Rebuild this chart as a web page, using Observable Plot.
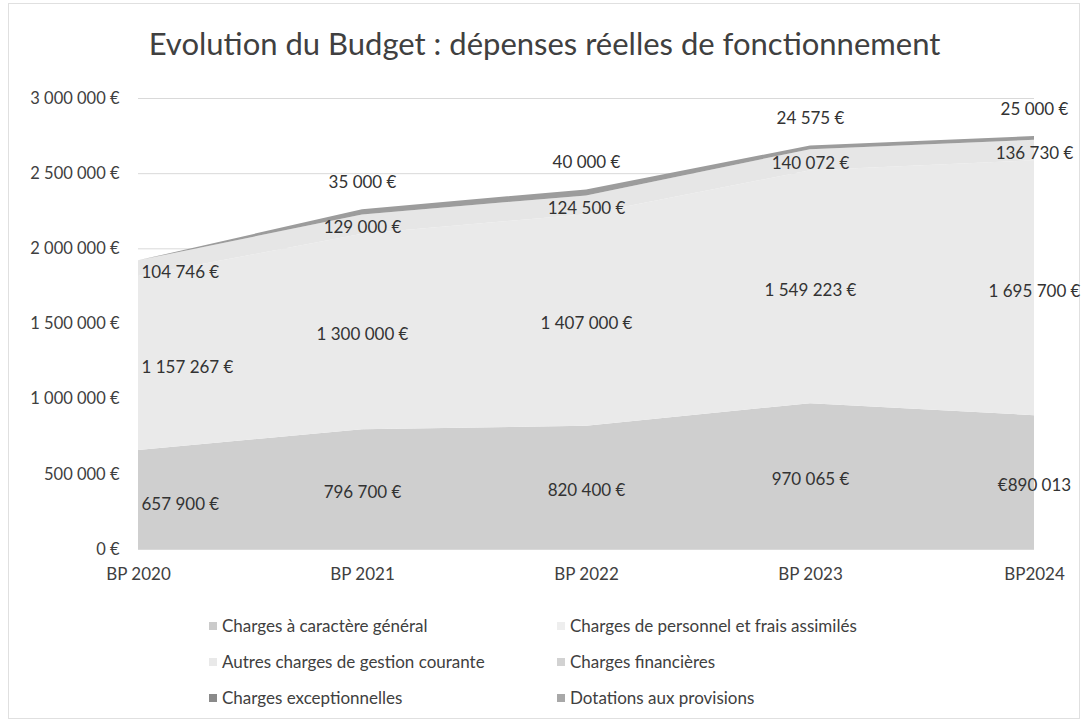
<!DOCTYPE html>
<html>
<head>
<meta charset="utf-8">
<script src="https://cdn.jsdelivr.net/npm/d3@7"></script>
<script src="https://cdn.jsdelivr.net/npm/@observablehq/plot@0.6"></script>
<style>
  html, body { margin: 0; padding: 0; background: #fff; }
  #wrap { position: relative; width: 1089px; height: 727px; font-family: Lato, "Open Sans", sans-serif; color: #404040; overflow: hidden; }
  #frame { position: absolute; left: 8px; top: 3px; width: 1072px; height: 716px; border: 1px solid #e0e0e0; box-sizing: border-box; }
  #title { position: absolute; left: 0; top: 24px; width: 1089px; text-align: center; font-size: 31px; color: #404040; }
  #chart { position: absolute; left: 0; top: 80px; }
  #legend { position: absolute; left: 209px; top: 614px; display: grid; grid-template-columns: 348px 320px; row-gap: 13px; font-size: 17px; color: #404040; }
  .item { display: flex; align-items: center; height: 23px; }
  .sw { width: 8px; height: 8px; margin-right: 5px; display: inline-block; }
</style>
</head>
<body>
<div id="wrap">
  <div id="frame"></div>
  <div id="title">Evolution du Budget : dépenses réelles de fonctionnement</div>
  <div id="chart"></div>
  <div id="legend"></div>
</div>
<script>
const categories = ["BP 2020", "BP 2021", "BP 2022", "BP 2023", "BP2024"];
const seriesNames = [
  "Charges à caractère général",
  "Charges de personnel et frais assimilés",
  "Autres charges de gestion courante",
  "Charges financières",
  "Charges exceptionnelles",
  "Dotations aux provisions"
];
const general = [657900, 796700, 820400, 970065, 890013];
const personnel = [1157267, 1300000, 1407000, 1549223, 1695700];
const autres = [104746, 129000, 124500, 140072, 136730];
const financieres = [0, 35000, 40000, 24575, 25000];
const exceptionnelles = [0, 0, 0, 0, 0];
const dotations = [0, 0, 0, 0, 0];
const generalLabels = ["657 900 €", "796 700 €", "820 400 €", "970 065 €", "€890 013"];
const colors = ["#cfcfcf", "#eaeaea", "#e6e6e6", "#9c9c9c", "#8a8a8a", "#a8a8a8"];
const legendColors = ["#cbcbcb", "#eeeeee", "#e9e9e9", "#d2d2d2", "#8a8a8a", "#a8a8a8"];
const yTicks = [0, 500000, 1000000, 1500000, 2000000, 2500000, 3000000];

const seriesValues = [general, personnel, autres, financieres, exceptionnelles, dotations];
const fmt = v => d3.format(",")(v).replace(/,/g, " ") + " €";

const rows = [];
seriesValues.forEach((vals, i) => {
  vals.forEach((v, j) => {
    let label = "";
    if (i === 0) label = generalLabels[j];
    else if (i <= 2) label = fmt(v);
    else if (i === 3 && v > 0) label = fmt(v);
    rows.push({year: categories[j], series: seriesNames[i], value: v, label, idx: i, first: j === 0});
  });
});

const midText = d => (d.idx <= 2 ? d.label : "");
const labelStyle = {fill: "#333", fontSize: 17};

const plot = Plot.plot({
  width: 1089,
  height: 520,
  marginLeft: 138,
  marginRight: 55,
  marginTop: 18,
  marginBottom: 51,
  style: {fontFamily: "Lato, 'Open Sans', sans-serif", fontSize: "16px", color: "#404040", background: "transparent"},
  x: {type: "point", domain: categories, padding: 0},
  y: {domain: [0, 3000000]},
  color: {domain: seriesNames, range: colors},
  marks: [
    Plot.gridY(yTicks, {stroke: "#d9d9d9", strokeOpacity: 1}),
    Plot.areaY(rows, {x: "year", y: "value", fill: "series", z: "series", order: seriesNames}),
    Plot.text(rows, Plot.stackY({x: "year", y: "value", z: "series", order: seriesNames,
      text: d => (!d.first ? midText(d) : ""), dy: 3, ...labelStyle})),
    Plot.text(rows, Plot.stackY({x: "year", y: "value", z: "series", order: seriesNames,
      text: d => (d.first ? midText(d) : ""), textAnchor: "start", dx: 3, dy: 4, ...labelStyle})),
    Plot.text(rows, Plot.stackY2({x: "year", y: "value", z: "series", order: seriesNames,
      text: d => (d.idx === 3 ? d.label : ""), dy: -27, ...labelStyle})),
    Plot.axisY(yTicks, {tickFormat: fmt, tickSize: 0, tickPadding: 19, label: null, fontSize: 16.5}),
    Plot.axisX({tickSize: 0, tickPadding: 18, label: null, fontSize: 17})
  ]
});
document.getElementById("chart").appendChild(plot);

const legend = document.getElementById("legend");
seriesNames.forEach((name, i) => {
  const item = document.createElement("div");
  item.className = "item";
  const sw = document.createElement("span");
  sw.className = "sw";
  sw.style.background = legendColors[i];
  item.appendChild(sw);
  item.appendChild(document.createTextNode(name));
  legend.appendChild(item);
});
</script>
</body>
</html>
